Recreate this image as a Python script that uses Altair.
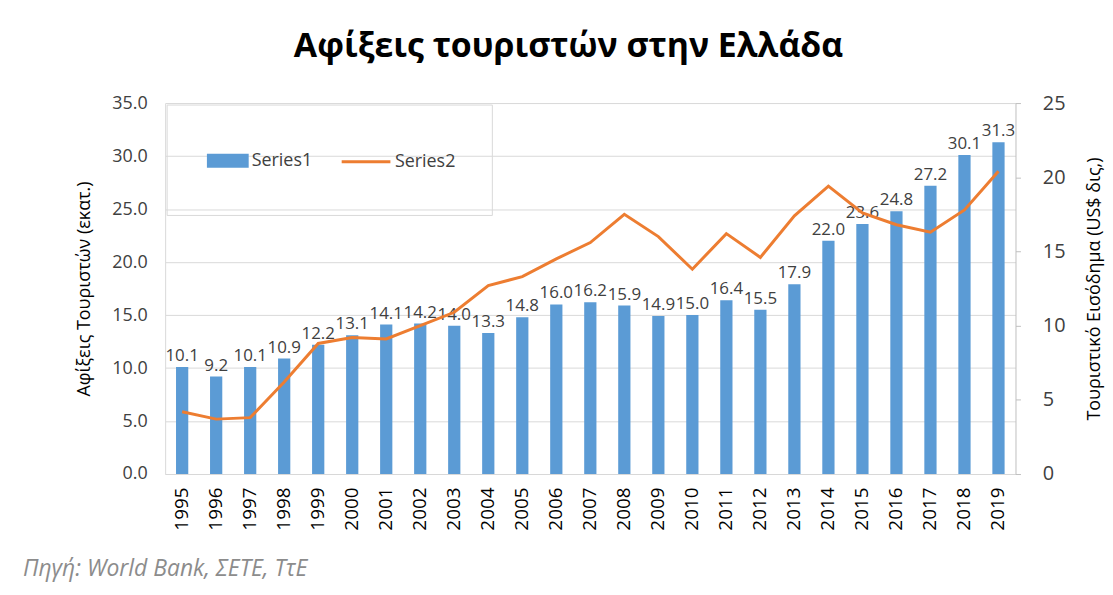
import altair as alt
import pandas as pd

years = [str(y) for y in range(1995, 2020)]
arrivals = [10.1, 9.2, 10.1, 10.9, 12.2, 13.1, 14.1, 14.2, 14.0, 13.3, 14.8, 16.0, 16.2,
            15.9, 14.9, 15.0, 16.4, 15.5, 17.9, 22.0, 23.6, 24.8, 27.2, 30.1, 31.3]
receipts = [4.2, 3.7, 3.8, 6.2, 8.8, 9.2, 9.1, 10.0, 10.9, 12.7, 13.3, 14.5, 15.6,
            17.5, 16.0, 13.8, 16.2, 14.6, 17.4, 19.4, 17.6, 16.8, 16.3, 17.8, 20.4]

df = pd.DataFrame({"year": years, "arrivals": arrivals, "receipts": receipts,
                   "s1": "Series1", "s2": "Series2"})

W, H = 855, 373
FONT = "Open Sans, sans-serif"

xenc = alt.X("year:O", title=None,
             scale=alt.Scale(paddingInner=0.64, paddingOuter=0.32),
             axis=alt.Axis(labelAngle=270, labelFontSize=19, labelColor="#000000",
                           labelFont=FONT, ticks=False, domainColor="#D9D9D9",
                           labelPadding=13, labelBaseline="middle"))

yleft_axis = alt.Axis(values=[0, 5, 10, 15, 20, 25, 30, 35], format=".1f",
                      labelFontSize=18, labelColor="#404040", labelFont=FONT,
                      titleFontSize=18, titleFont=FONT, titleColor="#000000",
                      titleFontWeight="normal", ticks=False, domainColor="#D9D9D9",
                      gridColor="#D9D9D9", labelPadding=18, titlePadding=18)

yleft = alt.Y("arrivals:Q", title="Αφίξεις Τουριστών (εκατ.)",
              scale=alt.Scale(domain=[0, 35]), axis=yleft_axis)

base = alt.Chart(df)

bars = base.mark_bar().encode(
    x=xenc, y=yleft,
    color=alt.Color("s1:N", scale=alt.Scale(domain=["Series1"], range=["#5B9BD5"]),
                    legend=alt.Legend(title=None, orient="none", legendX=42, legendY=37,
                                      symbolType="M-1,-0.333H1V0.333H-1Z", symbolSize=1764,
                                      labelFontSize=18, labelFont=FONT, labelColor="#404040",
                                      symbolStrokeWidth=0, labelOffset=3)))

labels = base.mark_text(baseline="bottom", dy=-2, fontSize=17, font=FONT,
                        color="#404040").encode(
    x=xenc, y=yleft,
    text=alt.Text("arrivals:Q", format=".1f"))

left_layer = alt.layer(bars, labels)

line = base.mark_line(strokeWidth=3).encode(
    x=xenc,
    y=alt.Y("receipts:Q", title="Τουριστικό Εισόδημα (US$ δις,)",
            scale=alt.Scale(domain=[0, 25]),
            axis=alt.Axis(orient="right", values=[0, 5, 10, 15, 20, 25], format="d",
                          labelFontSize=20, labelColor="#404040", labelFont=FONT,
                          titleFontSize=18, titleFont=FONT, titleColor="#000000",
                          titleFontWeight="normal", titleAngle=270, titleBaseline="top",
                          grid=False,
                          domainColor="#BFBFBF", tickColor="#BFBFBF", tickSize=5,
                          labelPadding=22, titlePadding=21)),
    color=alt.Color("s2:N", scale=alt.Scale(domain=["Series2"], range=["#ED7D31"]),
                    legend=alt.Legend(title=None, orient="none", legendX=176, legendY=33,
                                      symbolType="stroke", symbolSize=2400,
                                      symbolStrokeWidth=3,
                                      labelFontSize=18, labelFont=FONT, labelColor="#404040",
                                      labelOffset=3)))

box = alt.Chart(pd.DataFrame({"a": [0]})).mark_rect(
    fill="transparent", stroke="#D9D9D9", strokeWidth=1).encode(
    x=alt.value(2), x2=alt.value(329), y=alt.value(2), y2=alt.value(113))

source = alt.Chart(pd.DataFrame({"t": ["Πηγή: World Bank, ΣΕΤΕ, ΤτΕ"]})).mark_text(
    align="left", baseline="middle", fontSize=23, font=FONT, fontStyle="italic",
    color="#8C8C8C").encode(x=alt.value(-143), y=alt.value(469), text="t:N")

chart = alt.layer(left_layer, line, box, source).resolve_scale(
    y="independent", color="independent").properties(
    width=W, height=H,
    autosize=alt.AutoSizeParams(type="none"),
    padding={"left": 158, "top": 94, "right": 90, "bottom": 110},
    title=alt.TitleParams("Αφίξεις τουριστών στην Ελλάδα", fontSize=34,
                          font=FONT, fontWeight="bold",
                          color="#000000", anchor="middle", dx=-22, offset=29)
).configure_view(stroke=None)

chart.save("out.html", embed_options={"renderer": "svg", "actions": False})
